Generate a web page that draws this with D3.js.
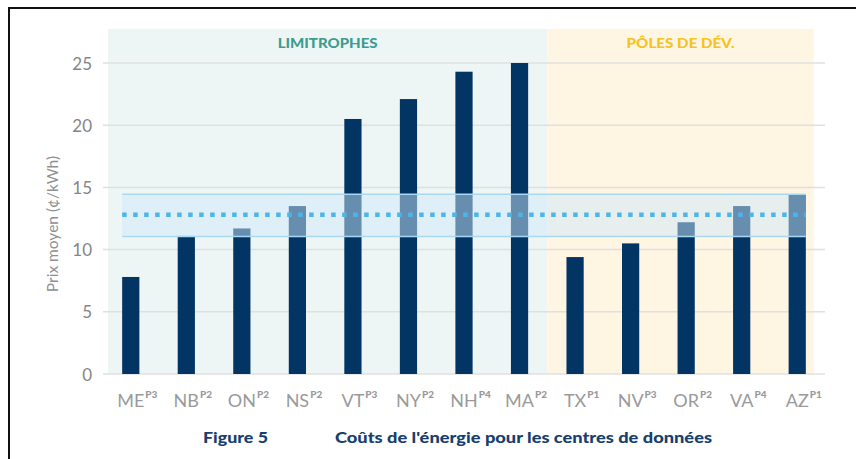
<!DOCTYPE html>
<html><head><meta charset="utf-8">
<script src="https://cdn.jsdelivr.net/npm/d3@7/dist/d3.min.js"></script>
<style>body{margin:0;background:#fff;}svg{display:block;font-family:Lato,"Open Sans",sans-serif;}</style>
</head><body><svg id="c" width="856" height="459"></svg>
<script>
const states = ["ME","NB","ON","NS","VT","NY","NH","MA","TX","NV","OR","VA","AZ"];
const tiers = ["P3","P2","P2","P2","P3","P2","P4","P2","P1","P3","P2","P4","P1"];
const prices = [7.8,11.1,11.7,13.5,20.5,22.1,24.3,25.0,9.4,10.5,12.2,13.5,14.4];
const groups = [{name:"LIMITROPHES", from:"ME", to:"MA"},{name:"PÔLES DE DÉV.", from:"TX", to:"AZ"}];
const yTicks = [0,5,10,15,20,25];
const bandLow = 11.05, bandHigh = 14.45, avgPrice = 12.8;

const svg = d3.select("#c");
const x = d3.scaleBand().domain(states).range([103,825]).paddingInner(0.69).paddingOuter(0.345);
const y = d3.scaleLinear().domain([0,25]).range([374,63]);
const step = x.step();

// panels
const mid = x("MA")+x.bandwidth()+(step-x.bandwidth())/2;
const gx0 = [108, mid];
const gx1 = [mid, x("AZ")+x.bandwidth()+8];
const colorsBg = ["#eef6f5","#fff5e3"];
const colorsTxt = ["#3d9c90","#f6c21c"];
const gw = [100,108];
groups.forEach((g,i)=>{
  svg.append("rect").attr("x",gx0[i]).attr("y",29).attr("width",gx1[i]-gx0[i]).attr("height",y(0)-29).attr("fill",colorsBg[i]);
  svg.append("text").attr("x",(gx0[i]+gx1[i])/2-gw[i]/2).attr("y",48)
    .attr("font-size",14).attr("font-weight",900).attr("fill",colorsTxt[i])
    .attr("textLength",gw[i]).attr("lengthAdjust","spacingAndGlyphs").text(g.name);
});

// grid
svg.append("g").selectAll("line").data(yTicks).join("line")
  .attr("x1",103).attr("x2",825).attr("y1",d=>y(d)).attr("y2",d=>y(d))
  .attr("stroke","#e0e0e0").attr("stroke-width",1.5);

// y axis
const ya = svg.append("g").attr("transform","translate(92,0)")
  .call(d3.axisLeft(y).tickValues(yTicks).tickSize(0).tickPadding(0));
ya.select(".domain").remove();
ya.selectAll("text").attr("font-size",17).attr("fill","#858585").attr("font-family","Lato,sans-serif").attr("dy","0.36em");

svg.append("text").attr("transform","translate(58,224) rotate(-90)").attr("text-anchor","middle")
  .attr("font-size",15.5).attr("fill","#8f8f8f").text("Prix moyen (¢/kWh)");

// bars
svg.append("g").selectAll("rect").data(states).join("rect")
  .attr("x",d=>x(d)).attr("width",x.bandwidth())
  .attr("y",(d,i)=>y(prices[i])).attr("height",(d,i)=>y(0)-y(prices[i]))
  .attr("fill","#023564");

// band overlay
const bx0 = x("ME"), bx1 = x("AZ")+x.bandwidth();
svg.append("rect").attr("x",bx0).attr("width",bx1-bx0).attr("y",y(bandHigh)).attr("height",y(bandLow)-y(bandHigh))
  .attr("fill","rgba(205,232,250,0.5)");
[bandLow,bandHigh].forEach(v=>svg.append("line").attr("x1",bx0).attr("x2",bx1).attr("y1",y(v)).attr("y2",y(v))
  .attr("stroke","#a9d9f2").attr("stroke-width",1.5));
svg.append("line").attr("x1",bx0).attr("x2",bx1).attr("y1",y(avgPrice)).attr("y2",y(avgPrice))
  .attr("stroke","#4db5ea").attr("stroke-width",4.5).attr("stroke-dasharray","4.5,6.5");

// x labels
const xg = svg.append("g").selectAll("g").data(states).join("g");
xg.each(function(d,i){
  const g = d3.select(this);
  const cx = x(d)+x.bandwidth()/2;
  const t = g.append("text").attr("y",407).attr("font-size",18).attr("fill","#9a9a9a").text(d);
  const w = t.node().getComputedTextLength();
  t.attr("x",cx-w/2);
  g.append("text").attr("x",cx+w/2+1).attr("y",398).attr("font-size",10).attr("font-weight",900).attr("fill","#9a9a9a").text(tiers[i]);
});

// caption
svg.append("text").attr("x",203).attr("y",443).attr("font-size",15).attr("font-weight",900).attr("fill","#173e6e")
  .attr("textLength",65).attr("lengthAdjust","spacingAndGlyphs").text("Figure 5");
svg.append("text").attr("x",335).attr("y",443).attr("font-size",15).attr("font-weight",900).attr("fill","#173e6e")
  .attr("textLength",377).attr("lengthAdjust","spacingAndGlyphs").text("Coûts de l'énergie pour les centres de données");

// border
svg.append("path").attr("d","M9,459 V8 H856").attr("fill","none").attr("stroke","#111").attr("stroke-width",2);
</script></body></html>
